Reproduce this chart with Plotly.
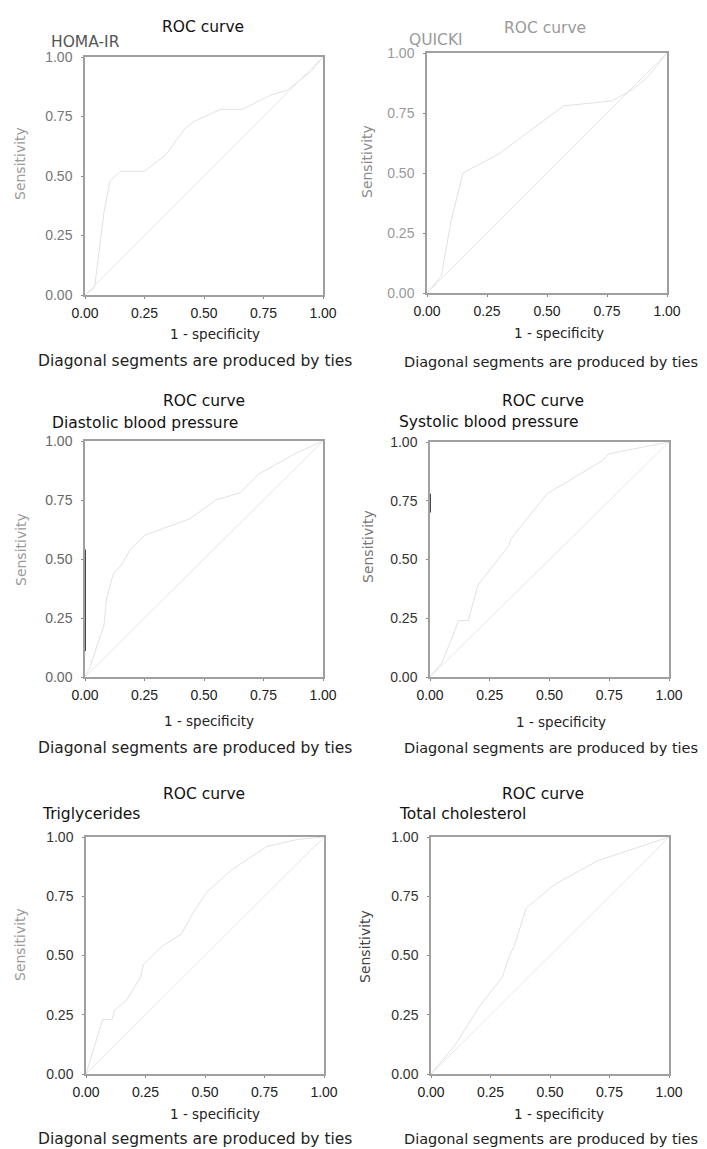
import plotly.graph_objects as go

W, H = 707, 1149
PAGE_MARGIN = 8          # the browser's default body margin
FW, FH = W - PAGE_MARGIN, H - PAGE_MARGIN

# ---------------- data ----------------
panel_names = ["HOMA-IR", "QUICKI", "Diastolic blood pressure",
               "Systolic blood pressure", "Triglycerides", "Total cholesterol"]
chart_title = "ROC curve"
x_axis_title = "1 - specificity"
y_axis_title = "Sensitivity"
footnote = "Diagonal segments are produced by ties"
tick_values = [0, 0.25, 0.5, 0.75, 1.0]
reference_line = [0.0, 1.0]

homa_fpr = [0, 0.04, 0.08, 0.105, 0.15, 0.25, 0.34, 0.42, 0.46, 0.57, 0.66, 0.78, 0.85, 0.95, 1.0]
homa_tpr = [0, 0.03, 0.35, 0.48, 0.52, 0.52, 0.59, 0.70, 0.73, 0.78, 0.78, 0.84, 0.86, 0.94, 1.0]

quicki_fpr = [0, 0.06, 0.10, 0.15, 0.30, 0.46, 0.57, 0.77, 0.86, 0.92, 1.0]
quicki_tpr = [0, 0.07, 0.30, 0.50, 0.58, 0.70, 0.78, 0.80, 0.85, 0.90, 1.0]

dbp_fpr = [0, 0.02, 0.08, 0.09, 0.12, 0.15, 0.19, 0.25, 0.33, 0.44, 0.55, 0.65, 0.73, 0.80, 0.89, 1.0]
dbp_tpr = [0, 0.04, 0.22, 0.33, 0.44, 0.47, 0.54, 0.60, 0.63, 0.67, 0.75, 0.78, 0.86, 0.90, 0.95, 1.0]

sbp_fpr = [0, 0.05, 0.12, 0.16, 0.20, 0.33, 0.34, 0.38, 0.47, 0.49, 0.72, 0.75, 1.0]
sbp_tpr = [0, 0.06, 0.24, 0.24, 0.39, 0.56, 0.59, 0.64, 0.75, 0.78, 0.92, 0.95, 1.0]

tg_fpr = [0, 0.03, 0.07, 0.11, 0.12, 0.17, 0.23, 0.24, 0.32, 0.40, 0.45, 0.51, 0.61, 0.76, 0.89, 1.0]
tg_tpr = [0, 0.10, 0.23, 0.23, 0.27, 0.31, 0.41, 0.46, 0.54, 0.59, 0.68, 0.77, 0.86, 0.96, 0.99, 1.0]

tc_fpr = [0, 0.10, 0.20, 0.30, 0.33, 0.35, 0.40, 0.52, 0.70, 1.0]
tc_tpr = [0, 0.12, 0.28, 0.41, 0.50, 0.54, 0.70, 0.80, 0.90, 1.0]

# dark scan marks along the sensitivity axis
dbp_mark_x = [0, 0]
dbp_mark_y = [0.11, 0.54]
sbp_mark_x = [0, 0]
sbp_mark_y = [0.70, 0.78]

curves = [(homa_fpr, homa_tpr), (quicki_fpr, quicki_tpr), (dbp_fpr, dbp_tpr),
          (sbp_fpr, sbp_tpr), (tg_fpr, tg_tpr), (tc_fpr, tc_tpr)]

# ---------------- layout geometry (window pixels) ----------------
boxes = [  # x0, x1, y0(top), y1(bottom)
    (85, 323, 57, 295),
    (427, 667, 53, 293),
    (85, 323, 441, 677),
    (430, 669, 442, 677),
    (86, 324, 837, 1074),
    (431, 669, 837, 1074),
]

title_pos = [(203, 27), (545, 28), (204, 401), (543, 401), (204, 794), (543, 794)]
title_col = ["#111", "#9a9a9a", "#111", "#111", "#111", "#111"]
sub_pos = [(49, 42), (407, 40), (50, 423), (397, 422), (40, 814), (397, 814)]
sub_col = ["#555", "#9a9a9a", "#111", "#111", "#111", "#111"]
xt_pos = [(215, 334), (559, 333), (209, 721), (561, 722), (215, 1114), (559, 1114)]
note_pos = [(195, 361), (551, 362), (195, 748), (551, 748), (195, 1139), (551, 1139)]
note_size = [15.5, 14.5, 15.5, 14.5, 15.5, 14.5]
yt_pos = [(20, 164), (367, 162), (21, 550), (368, 547), (20, 945), (365, 947)]
yt_col = ["#9a9a9a", "#8a8a8a", "#9a9a9a", "#777", "#9a9a9a", "#444"]
ytick_col = ["#777", "#999", "#666", "#333", "#333", "#333"]


def px_x(v):
    return (v - PAGE_MARGIN) / FW


def px_y(v):
    return 1 - (v - PAGE_MARGIN) / FH


fig = go.Figure()
annotations = []

for i, ((x0, x1, y0, y1), (fpr, tpr)) in enumerate(zip(boxes, curves)):
    n = "" if i == 0 else str(i + 1)
    xa, ya = "x" + n, "y" + n
    fig.add_trace(go.Scatter(x=reference_line, y=reference_line, mode="lines",
                             line=dict(color="#e8e8e8", width=1),
                             xaxis=xa, yaxis=ya, showlegend=False, hoverinfo="skip"))
    fig.add_trace(go.Scatter(x=fpr, y=tpr, mode="lines",
                             line=dict(color="#e2e2e2", width=1),
                             xaxis=xa, yaxis=ya, showlegend=False))
    fig.layout["xaxis" + n] = dict(
        domain=[px_x(x0), px_x(x1)], anchor=ya, range=[0, 1], automargin=False,
        tickvals=tick_values, tickformat=".2f",
        showgrid=False, zeroline=False, showline=True, mirror=True,
        linecolor="#a0a0a0", linewidth=1.5,
        ticks="outside", ticklen=2, tickcolor="#888",
        tickfont=dict(family="Liberation Sans, Arial, sans-serif", size=14, color="#222"),
        ticklabelstandoff=2,
    )
    fig.layout["yaxis" + n] = dict(
        domain=[px_y(y1), px_y(y0)], anchor=xa, range=[0, 1], automargin=False,
        tickvals=tick_values, tickformat=".2f",
        showgrid=False, zeroline=False, showline=True, mirror=True,
        linecolor="#a0a0a0", linewidth=1.5,
        ticks="outside", ticklen=2, tickcolor="#888",
        tickfont=dict(family="Liberation Sans, Arial, sans-serif", size=14, color=ytick_col[i]),
        ticklabelstandoff=6,
    )

    def ann(text, pos, size, color, xanchor="center", angle=0):
        annotations.append(dict(
            text=text, x=px_x(pos[0]), y=px_y(pos[1]), xref="paper", yref="paper",
            xanchor=xanchor, yanchor="middle", showarrow=False, textangle=angle,
            font=dict(family="DejaVu Sans, sans-serif", size=size, color=color)))

    ann(chart_title, title_pos[i], 15.5, title_col[i])
    ann(panel_names[i], sub_pos[i], 15.5, sub_col[i], xanchor="left")
    ann(x_axis_title, xt_pos[i], 13.5, "#222")
    ann(footnote, note_pos[i], note_size[i], "#222")
    ann(y_axis_title, yt_pos[i], 14, yt_col[i], angle=-90)

fig.add_trace(go.Scatter(x=dbp_mark_x, y=dbp_mark_y, mode="lines",
                         line=dict(color="#333", width=1.8),
                         xaxis="x3", yaxis="y3", showlegend=False, hoverinfo="skip",
                         cliponaxis=False))
fig.add_trace(go.Scatter(x=sbp_mark_x, y=sbp_mark_y, mode="lines",
                         line=dict(color="#333", width=1.8),
                         xaxis="x4", yaxis="y4", showlegend=False, hoverinfo="skip",
                         cliponaxis=False))

fig.update_layout(
    template="none",
    width=FW, height=FH, margin=dict(l=0, r=0, t=0, b=0, pad=0),
    paper_bgcolor="white", plot_bgcolor="white",
    annotations=annotations, showlegend=False,
)

fig.write_html("out.html")
